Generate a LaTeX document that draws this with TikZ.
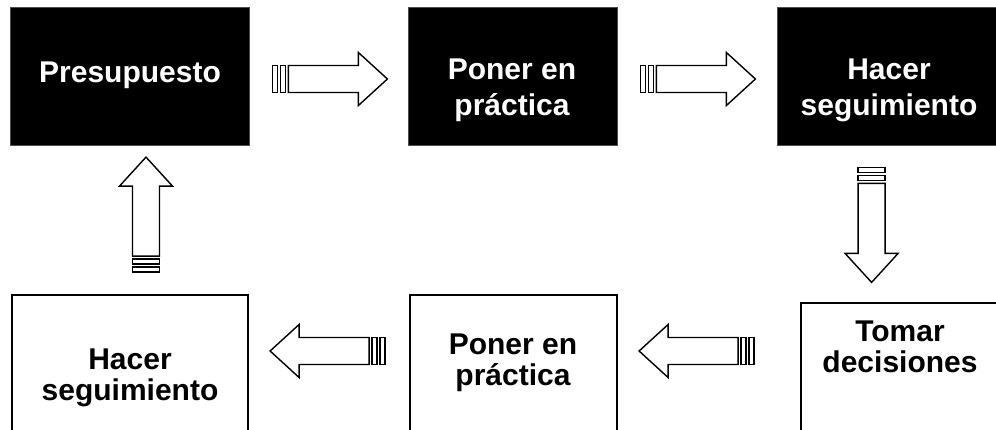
\documentclass[tikz,border=0pt]{standalone}
\usepackage{fontspec}
\setmainfont{Liberation Sans}
\usetikzlibrary{calc}
\tikzset{
  topbox/.style={draw=black!70, line width=0.8pt, fill=black, inner sep=0pt},
  botbox/.style={draw=black, line width=1.8pt, fill=white, inner sep=0pt},
  toptext/.style={text=white, font=\fontsize{30}{36}\selectfont\bfseries, align=center, inner sep=0pt},
  bottext/.style={text=black, font=\fontsize{30}{31}\selectfont\bfseries, align=center, inner sep=0pt},
  arrline/.style={draw=black, line width=1.4pt, fill=white, line join=miter},
  pics/blockarrow/.style={code={
    \path[arrline] (0,-13.5) rectangle (5,13.5);
    \path[arrline] (8,-13.5) rectangle (13,13.5);
    \path[arrline] (16,-13.5) -- (86,-13.5) -- (86,-26.5) -- (115,0) -- (86,26.5) -- (86,13.5) -- (16,13.5) -- cycle;
  }}
}
\begin{document}
\begin{tikzpicture}[x=1pt,y=-1pt]
\useasboundingbox (0,0) rectangle (996,429);
\clip (0,0) rectangle (996,429);
% boxes
\node[topbox, minimum width=239pt, minimum height=138pt] (b1) at (129.5,76) {};
\node[topbox, minimum width=209pt, minimum height=138pt] (b2) at (512.5,76) {};
\node[topbox, minimum width=240pt, minimum height=138pt] (b3) at (897,76) {};
\node[botbox, minimum width=236pt, minimum height=160pt] (b4) at (130,375) {};
\node[botbox, minimum width=207pt, minimum height=160pt] (b5) at (513.5,375) {};
\node[botbox, minimum width=220pt, minimum height=150pt] (b6) at (911,378) {};
% texts
\node[toptext, anchor=base] (t1) at (130,82) {Presupuesto};
\node[toptext, anchor=base] (t2) at (512,115) {Poner en\\práctica};
\node[toptext, anchor=base] (t3) at (889,115) {Hacer\\seguimiento};
\node[bottext, anchor=base] (t4) at (130,400) {Hacer\\seguimiento};
\node[bottext, anchor=base] (t5) at (513,385) {Poner en\\práctica};
\node[bottext, anchor=base] (t6) at (900,372) {Tomar\\decisiones};
% arrows
\pic at ($(b1.east)+(23,3)$) {blockarrow};
\pic at ($(b2.east)+(23,3)$) {blockarrow};
\pic[rotate=-90] at ($(b3.south west)+(95,22)$) {blockarrow};
\pic[rotate=180] at ($(b6.west)+(-46,-27)$) {blockarrow};
\pic[rotate=180] at ($(b5.west)+(-24,-24)$) {blockarrow};
\pic[rotate=90] at ($(b4.north)+(16,-22)$) {blockarrow};
\end{tikzpicture}
\end{document}
